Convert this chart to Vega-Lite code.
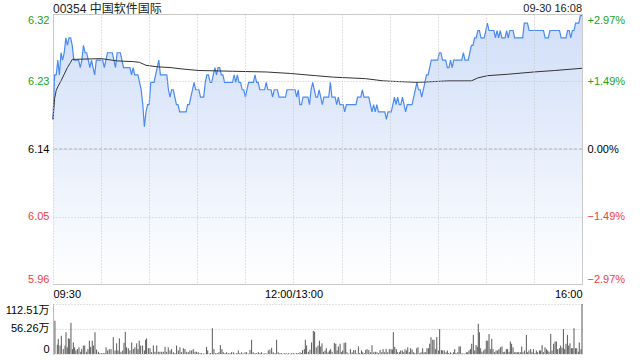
{
"$schema": "https://vega.github.io/schema/vega-lite/v6.json",
"padding": {"left": 5, "right": 5, "top": 2, "bottom": 2},
"spacing": 3,
"config": {
  "font": "Liberation Sans, Noto Sans CJK SC",
  "view": {"stroke": null},
  "axis": {"labelFont": "Liberation Sans, Noto Sans CJK SC", "labelFontSize": 11, "labelColor": "#000000", "ticks": false, "title": null, "domainColor": "#cccccc", "gridColor": "#c4c4c4", "gridDash": [1, 2]}
},
"datasets": {
  "px": [
{"m":0,"p":6.18},{"m":1,"p":6.24},{"m":2,"p":6.24},{"m":3,"p":6.26},{"m":4,"p":6.24},{"m":5,"p":6.27},{"m":6,"p":6.26},{"m":7,"p":6.27},{"m":8,"p":6.29},{"m":9,"p":6.28},
{"m":10,"p":6.29},{"m":11,"p":6.29},{"m":12,"p":6.28},{"m":13,"p":6.26},{"m":14,"p":6.26},{"m":15,"p":6.26},{"m":16,"p":6.26},{"m":17,"p":6.25},{"m":18,"p":6.26},{"m":19,"p":6.28},
{"m":20,"p":6.27},{"m":21,"p":6.27},{"m":22,"p":6.26},{"m":23,"p":6.25},{"m":24,"p":6.26},{"m":25,"p":6.25},{"m":26,"p":6.24},{"m":27,"p":6.26},{"m":28,"p":6.26},{"m":29,"p":6.26},
{"m":30,"p":6.26},{"m":31,"p":6.26},{"m":32,"p":6.25},{"m":33,"p":6.26},{"m":34,"p":6.27},{"m":35,"p":6.27},{"m":36,"p":6.27},{"m":37,"p":6.27},{"m":38,"p":6.26},{"m":39,"p":6.25},
{"m":40,"p":6.27},{"m":41,"p":6.27},{"m":42,"p":6.27},{"m":43,"p":6.26},{"m":44,"p":6.25},{"m":45,"p":6.25},{"m":46,"p":6.25},{"m":47,"p":6.25},{"m":48,"p":6.25},{"m":49,"p":6.24},
{"m":50,"p":6.25},{"m":51,"p":6.24},{"m":52,"p":6.24},{"m":53,"p":6.24},{"m":54,"p":6.23},{"m":55,"p":6.22},{"m":56,"p":6.20},{"m":57,"p":6.17},{"m":58,"p":6.19},{"m":59,"p":6.20},
{"m":60,"p":6.20},{"m":61,"p":6.23},{"m":62,"p":6.23},{"m":63,"p":6.23},{"m":64,"p":6.24},{"m":65,"p":6.25},{"m":66,"p":6.26},{"m":67,"p":6.24},{"m":68,"p":6.24},{"m":69,"p":6.24},
{"m":70,"p":6.24},{"m":71,"p":6.24},{"m":72,"p":6.22},{"m":73,"p":6.21},{"m":74,"p":6.22},{"m":75,"p":6.22},{"m":76,"p":6.21},{"m":77,"p":6.20},{"m":78,"p":6.20},{"m":79,"p":6.19},
{"m":80,"p":6.19},{"m":81,"p":6.19},{"m":82,"p":6.19},{"m":83,"p":6.19},{"m":84,"p":6.20},{"m":85,"p":6.20},{"m":86,"p":6.21},{"m":87,"p":6.22},{"m":88,"p":6.23},{"m":89,"p":6.22},
{"m":90,"p":6.22},{"m":91,"p":6.22},{"m":92,"p":6.21},{"m":93,"p":6.21},{"m":94,"p":6.21},{"m":95,"p":6.23},{"m":96,"p":6.24},{"m":97,"p":6.24},{"m":98,"p":6.23},{"m":99,"p":6.23},
{"m":100,"p":6.24},{"m":101,"p":6.25},{"m":102,"p":6.24},{"m":103,"p":6.25},{"m":104,"p":6.25},{"m":105,"p":6.24},{"m":106,"p":6.24},{"m":107,"p":6.23},{"m":108,"p":6.23},{"m":109,"p":6.23},
{"m":110,"p":6.23},{"m":111,"p":6.23},{"m":112,"p":6.23},{"m":113,"p":6.24},{"m":114,"p":6.23},{"m":115,"p":6.24},{"m":116,"p":6.23},{"m":117,"p":6.23},{"m":118,"p":6.22},{"m":119,"p":6.22},
{"m":120,"p":6.21},{"m":121,"p":6.22},{"m":122,"p":6.23},{"m":123,"p":6.23},{"m":124,"p":6.23},{"m":125,"p":6.23},{"m":126,"p":6.24},{"m":127,"p":6.23},{"m":128,"p":6.23},{"m":129,"p":6.22},
{"m":130,"p":6.22},{"m":131,"p":6.22},{"m":132,"p":6.22},{"m":133,"p":6.23},{"m":134,"p":6.22},{"m":135,"p":6.22},{"m":136,"p":6.22},{"m":137,"p":6.21},{"m":138,"p":6.22},{"m":139,"p":6.22},
{"m":140,"p":6.22},{"m":141,"p":6.21},{"m":142,"p":6.21},{"m":143,"p":6.21},{"m":144,"p":6.21},{"m":145,"p":6.21},{"m":146,"p":6.22},{"m":147,"p":6.22},{"m":148,"p":6.22},{"m":149,"p":6.22},
{"m":150,"p":6.22},{"m":151,"p":6.22},{"m":152,"p":6.21},{"m":153,"p":6.22},{"m":154,"p":6.20},{"m":155,"p":6.20},{"m":156,"p":6.21},{"m":157,"p":6.21},{"m":158,"p":6.21},{"m":159,"p":6.21},
{"m":160,"p":6.20},{"m":161,"p":6.22},{"m":162,"p":6.23},{"m":163,"p":6.22},{"m":164,"p":6.21},{"m":165,"p":6.21},{"m":166,"p":6.22},{"m":167,"p":6.21},{"m":168,"p":6.20},{"m":169,"p":6.21},
{"m":170,"p":6.21},{"m":171,"p":6.21},{"m":172,"p":6.21},{"m":173,"p":6.23},{"m":174,"p":6.21},{"m":175,"p":6.21},{"m":176,"p":6.21},{"m":177,"p":6.20},{"m":178,"p":6.21},{"m":179,"p":6.20},
{"m":180,"p":6.20},{"m":181,"p":6.20},{"m":182,"p":6.19},{"m":183,"p":6.20},{"m":184,"p":6.20},{"m":185,"p":6.20},{"m":186,"p":6.20},{"m":187,"p":6.20},{"m":188,"p":6.20},{"m":189,"p":6.20},
{"m":190,"p":6.21},{"m":191,"p":6.21},{"m":192,"p":6.21},{"m":193,"p":6.22},{"m":194,"p":6.21},{"m":195,"p":6.21},{"m":196,"p":6.21},{"m":197,"p":6.21},{"m":198,"p":6.20},{"m":199,"p":6.19},
{"m":200,"p":6.20},{"m":201,"p":6.19},{"m":202,"p":6.20},{"m":203,"p":6.19},{"m":204,"p":6.19},{"m":205,"p":6.19},{"m":206,"p":6.19},{"m":207,"p":6.19},{"m":208,"p":6.18},{"m":209,"p":6.19},
{"m":210,"p":6.19},{"m":211,"p":6.19},{"m":212,"p":6.20},{"m":213,"p":6.21},{"m":214,"p":6.20},{"m":215,"p":6.21},{"m":216,"p":6.20},{"m":217,"p":6.20},{"m":218,"p":6.21},{"m":219,"p":6.20},
{"m":220,"p":6.19},{"m":221,"p":6.20},{"m":222,"p":6.20},{"m":223,"p":6.20},{"m":224,"p":6.20},{"m":225,"p":6.21},{"m":226,"p":6.22},{"m":227,"p":6.23},{"m":228,"p":6.22},{"m":229,"p":6.22},
{"m":230,"p":6.21},{"m":231,"p":6.22},{"m":232,"p":6.23},{"m":233,"p":6.24},{"m":234,"p":6.24},{"m":235,"p":6.25},{"m":236,"p":6.26},{"m":237,"p":6.26},{"m":238,"p":6.26},{"m":239,"p":6.26},
{"m":240,"p":6.26},{"m":241,"p":6.27},{"m":242,"p":6.27},{"m":243,"p":6.26},{"m":244,"p":6.26},{"m":245,"p":6.26},{"m":246,"p":6.25},{"m":247,"p":6.25},{"m":248,"p":6.26},{"m":249,"p":6.25},
{"m":250,"p":6.26},{"m":251,"p":6.26},{"m":252,"p":6.26},{"m":253,"p":6.26},{"m":254,"p":6.26},{"m":255,"p":6.26},{"m":256,"p":6.27},{"m":257,"p":6.26},{"m":258,"p":6.26},{"m":259,"p":6.26},
{"m":260,"p":6.27},{"m":261,"p":6.28},{"m":262,"p":6.28},{"m":263,"p":6.29},{"m":264,"p":6.29},{"m":265,"p":6.30},{"m":266,"p":6.30},{"m":267,"p":6.29},{"m":268,"p":6.29},{"m":269,"p":6.29},
{"m":270,"p":6.30},{"m":271,"p":6.31},{"m":272,"p":6.30},{"m":273,"p":6.30},{"m":274,"p":6.30},{"m":275,"p":6.30},{"m":276,"p":6.29},{"m":277,"p":6.30},{"m":278,"p":6.29},{"m":279,"p":6.30},
{"m":280,"p":6.29},{"m":281,"p":6.29},{"m":282,"p":6.29},{"m":283,"p":6.30},{"m":284,"p":6.29},{"m":285,"p":6.30},{"m":286,"p":6.30},{"m":287,"p":6.30},{"m":288,"p":6.29},{"m":289,"p":6.29},
{"m":290,"p":6.29},{"m":291,"p":6.29},{"m":292,"p":6.29},{"m":293,"p":6.29},{"m":294,"p":6.31},{"m":295,"p":6.31},{"m":296,"p":6.31},{"m":297,"p":6.30},{"m":298,"p":6.30},{"m":299,"p":6.30},
{"m":300,"p":6.30},{"m":301,"p":6.30},{"m":302,"p":6.30},{"m":303,"p":6.30},{"m":304,"p":6.30},{"m":305,"p":6.30},{"m":306,"p":6.30},{"m":307,"p":6.29},{"m":308,"p":6.29},{"m":309,"p":6.29},
{"m":310,"p":6.30},{"m":311,"p":6.30},{"m":312,"p":6.30},{"m":313,"p":6.30},{"m":314,"p":6.30},{"m":315,"p":6.30},{"m":316,"p":6.30},{"m":317,"p":6.29},{"m":318,"p":6.29},{"m":319,"p":6.29},
{"m":320,"p":6.29},{"m":321,"p":6.30},{"m":322,"p":6.30},{"m":323,"p":6.29},{"m":324,"p":6.30},{"m":325,"p":6.30},{"m":326,"p":6.31},{"m":327,"p":6.31},{"m":328,"p":6.31},{"m":329,"p":6.32},
{"m":330,"p":6.32}
  ],
  "avg": [
{"m":0,"a":6.18},{"m":1,"a":6.208},{"m":2,"a":6.219},{"m":3,"a":6.224},{"m":5,"a":6.232},{"m":7,"a":6.241},{"m":9,"a":6.25},{"m":11,"a":6.257},{"m":12,"a":6.261},{"m":30,"a":6.262},
{"m":40,"a":6.259},{"m":50,"a":6.258},{"m":54,"a":6.257},{"m":58,"a":6.253},{"m":65,"a":6.251},{"m":73,"a":6.25},{"m":81,"a":6.248},{"m":91,"a":6.246},{"m":112,"a":6.245},{"m":133,"a":6.244},
{"m":148,"a":6.242},{"m":164,"a":6.239},{"m":175,"a":6.237},{"m":195,"a":6.235},{"m":206,"a":6.232},{"m":216,"a":6.231},{"m":227,"a":6.23},{"m":237,"a":6.231},{"m":247,"a":6.232},{"m":261,"a":6.232},
{"m":265,"a":6.236},{"m":271,"a":6.239},{"m":284,"a":6.241},{"m":300,"a":6.244},{"m":313,"a":6.246},{"m":330,"a":6.249}
  ],
  "vol": [
{"m":1.2,"v":75},{"m":2.7,"v":21},{"m":3.3,"v":34},{"m":4.4,"v":19},{"m":5.2,"v":41},{"m":6.4,"v":11},{"m":7.5,"v":19},{"m":8.1,"v":49},{"m":8.9,"v":15},{"m":9.6,"v":35},
{"m":10.2,"v":34},{"m":11.2,"v":70},{"m":12.1,"v":11},{"m":12.7,"v":26},{"m":13.5,"v":15},{"m":14.3,"v":8},{"m":15.2,"v":11},{"m":16.2,"v":15},{"m":17.3,"v":5},{"m":17.9,"v":11},
{"m":18.9,"v":19},{"m":19.8,"v":19},{"m":21.0,"v":5},{"m":21.8,"v":11},{"m":22.7,"v":30},{"m":23.5,"v":16},{"m":24.5,"v":30},{"m":25.2,"v":19},{"m":26.2,"v":49},{"m":27.2,"v":10},
{"m":28.3,"v":5},{"m":29.3,"v":2},{"m":30.4,"v":2},{"m":31.4,"v":2},{"m":32.4,"v":2},{"m":33.1,"v":15},{"m":34.1,"v":8},{"m":35.1,"v":11},{"m":36.2,"v":11},{"m":37.6,"v":38},
{"m":38.7,"v":8},{"m":39.7,"v":24},{"m":40.5,"v":8},{"m":41.4,"v":35},{"m":42.4,"v":5},{"m":43.5,"v":8},{"m":44.3,"v":25},{"m":45.1,"v":50},{"m":45.9,"v":15},{"m":47.0,"v":13},
{"m":48.0,"v":8},{"m":49.1,"v":26},{"m":50.1,"v":11},{"m":51.1,"v":15},{"m":52.2,"v":24},{"m":53.0,"v":11},{"m":53.8,"v":30},{"m":54.7,"v":19},{"m":55.9,"v":19},{"m":57.0,"v":8},
{"m":57.8,"v":32},{"m":58.4,"v":35},{"m":59.5,"v":13},{"m":60.5,"v":13},{"m":61.5,"v":4},{"m":62.6,"v":19},{"m":63.6,"v":5},{"m":64.7,"v":19},{"m":65.7,"v":5},{"m":66.7,"v":5},
{"m":67.8,"v":5},{"m":68.8,"v":5},{"m":69.9,"v":16},{"m":70.9,"v":5},{"m":71.9,"v":15},{"m":73.0,"v":8},{"m":74.0,"v":11},{"m":75.1,"v":4},{"m":76.1,"v":2},{"m":77.1,"v":19},
{"m":78.2,"v":8},{"m":79.2,"v":15},{"m":80.2,"v":4},{"m":81.3,"v":13},{"m":82.3,"v":11},{"m":83.4,"v":5},{"m":84.4,"v":4},{"m":85.4,"v":8},{"m":86.5,"v":8},{"m":87.5,"v":11},
{"m":88.6,"v":5},{"m":89.6,"v":5},{"m":90.6,"v":4},{"m":91.7,"v":2},{"m":92.7,"v":2},{"m":93.8,"v":1},{"m":94.8,"v":1},{"m":95.8,"v":16},{"m":96.5,"v":8},{"m":97.5,"v":1},
{"m":98.3,"v":2},{"m":99.4,"v":58},{"m":100.4,"v":11},{"m":101.5,"v":2},{"m":102.5,"v":2},{"m":103.5,"v":4},{"m":104.4,"v":20},{"m":105.4,"v":11},{"m":106.2,"v":4},{"m":107.3,"v":2},
{"m":108.3,"v":4},{"m":109.4,"v":2},{"m":110.4,"v":2},{"m":111.4,"v":4},{"m":112.5,"v":4},{"m":113.5,"v":1},{"m":114.6,"v":2},{"m":115.6,"v":8},{"m":116.6,"v":2},{"m":117.7,"v":4},
{"m":118.7,"v":1},{"m":119.8,"v":4},{"m":120.8,"v":4},{"m":121.8,"v":1},{"m":122.9,"v":9},{"m":123.9,"v":32},{"m":124.9,"v":4},{"m":126.0,"v":2},{"m":127.0,"v":2},{"m":128.1,"v":4},
{"m":129.1,"v":2},{"m":130.1,"v":4},{"m":131.2,"v":1},{"m":132.2,"v":2},{"m":133.3,"v":1},{"m":134.3,"v":8},{"m":135.3,"v":10},{"m":136.4,"v":14},{"m":137.4,"v":4},{"m":138.5,"v":2},
{"m":139.5,"v":32},{"m":140.5,"v":4},{"m":141.6,"v":2},{"m":142.6,"v":2},{"m":143.7,"v":1},{"m":144.7,"v":2},{"m":145.7,"v":1},{"m":146.8,"v":2},{"m":147.8,"v":1},{"m":148.9,"v":2},
{"m":149.9,"v":2},{"m":150.9,"v":1},{"m":152.0,"v":2},{"m":153.0,"v":2},{"m":154.1,"v":4},{"m":155.1,"v":2},{"m":155.7,"v":9},{"m":156.8,"v":11},{"m":157.4,"v":32},{"m":158.2,"v":19},
{"m":159.3,"v":5},{"m":160.3,"v":10},{"m":161.3,"v":26},{"m":162.4,"v":52},{"m":163.2,"v":50},{"m":164.2,"v":15},
{"m":165.3,"v":19},{"m":166.2,"v":30},{"m":167.0,"v":17},{"m":167.8,"v":24},{"m":168.7,"v":5},{"m":169.7,"v":8},{"m":170.5,"v":13},{"m":171.6,"v":4},{"m":172.4,"v":8},{"m":173.2,"v":11},
{"m":174.1,"v":5},{"m":175.5,"v":25},{"m":176.4,"v":23},{"m":177.2,"v":8},{"m":178.0,"v":17},{"m":179.1,"v":23},{"m":179.9,"v":4},{"m":180.7,"v":8},{"m":181.6,"v":25},{"m":182.6,"v":26},
{"m":183.4,"v":4},{"m":184.5,"v":1},{"m":185.5,"v":11},{"m":186.6,"v":4},{"m":187.6,"v":9},{"m":188.6,"v":9},{"m":189.5,"v":1},{"m":190.5,"v":17},{"m":191.3,"v":2},{"m":192.4,"v":8},
{"m":193.2,"v":4},{"m":194.2,"v":2},{"m":195.1,"v":9},{"m":195.9,"v":11},{"m":197.0,"v":9},{"m":198.0,"v":4},{"m":199.0,"v":20},{"m":200.1,"v":4},{"m":201.1,"v":5},{"m":202.1,"v":4},
{"m":203.0,"v":2},{"m":204.0,"v":9},{"m":205.1,"v":4},{"m":205.9,"v":11},{"m":206.9,"v":4},{"m":207.8,"v":11},{"m":208.8,"v":4},{"m":209.8,"v":11},{"m":210.9,"v":11},{"m":211.7,"v":10},
{"m":212.3,"v":49},{"m":213.2,"v":16},{"m":214.2,"v":11},{"m":215.0,"v":4},{"m":216.1,"v":4},{"m":216.9,"v":8},{"m":217.9,"v":8},{"m":218.8,"v":4},{"m":219.6,"v":11},{"m":220.6,"v":8},
{"m":221.3,"v":15},{"m":222.3,"v":4},{"m":223.1,"v":13},{"m":224.0,"v":10},{"m":225.0,"v":4},{"m":225.8,"v":2},{"m":226.9,"v":13},{"m":227.7,"v":15},{"m":228.8,"v":2},{"m":229.6,"v":4},
{"m":230.6,"v":13},{"m":231.5,"v":4},{"m":232.5,"v":4},{"m":233.3,"v":13},{"m":234.2,"v":13},{"m":235.0,"v":23},{"m":235.8,"v":38},{"m":236.9,"v":32},{"m":237.7,"v":32},{"m":238.5,"v":11},
{"m":239.4,"v":38},{"m":240.4,"v":8},{"m":241.2,"v":56},{"m":242.3,"v":9},{"m":243.1,"v":8},{"m":244.1,"v":8},{"m":245.2,"v":4},{"m":246.0,"v":8},{"m":246.8,"v":2},{"m":247.9,"v":4},
{"m":248.7,"v":1},{"m":249.8,"v":4},{"m":250.6,"v":11},{"m":251.4,"v":2},{"m":252.5,"v":4},{"m":253.3,"v":17},{"m":254.1,"v":17},{"m":255.2,"v":2},{"m":256.2,"v":1},{"m":257.0,"v":1},
{"m":257.9,"v":4},{"m":258.7,"v":4},{"m":259.5,"v":8},{"m":260.4,"v":11},{"m":261.2,"v":23},{"m":262.2,"v":43},{"m":263.1,"v":8},{"m":263.9,"v":20},{"m":264.7,"v":16},{"m":265.3,"v":68},
{"m":266.0,"v":49},{"m":266.8,"v":13},{"m":267.6,"v":5},{"m":268.7,"v":8},{"m":269.5,"v":11},{"m":270.3,"v":30},{"m":271.2,"v":30},{"m":272.0,"v":45},{"m":272.8,"v":11},{"m":273.7,"v":34},
{"m":274.5,"v":11},{"m":275.5,"v":4},{"m":276.4,"v":8},{"m":277.4,"v":8},{"m":278.2,"v":11},{"m":279.1,"v":15},{"m":280.1,"v":17},{"m":280.9,"v":4},{"m":281.8,"v":5},{"m":282.8,"v":11},
{"m":283.6,"v":11},{"m":284.5,"v":5},{"m":285.3,"v":28},{"m":286.1,"v":23},{"m":287.0,"v":15},{"m":288.0,"v":4},{"m":288.8,"v":4},{"m":289.7,"v":4},{"m":290.5,"v":4},{"m":291.5,"v":4},
{"m":292.4,"v":17},{"m":293.2,"v":4},{"m":294.2,"v":8},{"m":295.3,"v":43},{"m":296.1,"v":4},{"m":296.9,"v":8},{"m":298.0,"v":11},{"m":298.8,"v":4},{"m":299.7,"v":11},{"m":300.7,"v":2},
{"m":301.5,"v":8},{"m":302.3,"v":4},{"m":303.4,"v":8},{"m":304.2,"v":8},{"m":305.1,"v":20},{"m":305.9,"v":4},{"m":306.9,"v":15},{"m":307.8,"v":11},{"m":308.6,"v":8},{"m":309.4,"v":5},
{"m":310.5,"v":45},{"m":311.3,"v":8},{"m":312.3,"v":23},{"m":313.2,"v":28},{"m":314.0,"v":28},{"m":314.8,"v":11},{"m":315.9,"v":13},{"m":316.7,"v":19},{"m":317.5,"v":14},{"m":318.4,"v":56},
{"m":319.2,"v":11},{"m":320.0,"v":23},{"m":320.9,"v":43},{"m":321.7,"v":19},{"m":322.5,"v":24},{"m":323.4,"v":13},{"m":324.2,"v":13},{"m":325.0,"v":58},{"m":325.9,"v":13},{"m":326.7,"v":13},
{"m":327.7,"v":5},{"m":328.3,"v":26},{"m":329.4,"v":11},{"m":330.0,"v":112.51}
  ]
},
"vconcat": [
  {
    "width": 529,
    "height": 270,
    "view": {"stroke": "#cccccc"},
    "title": {"text": "00354 中国软件国际", "anchor": "start", "frame": "group", "fontSize": 12, "fontWeight": "normal", "color": "#222222", "offset": -13, "font": "Liberation Sans, Noto Sans CJK SC"},
    "resolve": {"axis": {"y": "independent"}},
    "layer": [
      {
        "data": {"name": "px"},
        "mark": {"type": "area", "clip": true, "color": {"gradient": "linear", "x1": 0, "y1": 0, "x2": 0, "y2": 1, "stops": [{"offset": 0, "color": "#d0def8"}, {"offset": 1, "color": "#ffffff"}]}},
        "encoding": {
          "x": {"field": "m", "type": "quantitative", "scale": {"domain": [0, 330], "nice": false, "zero": false},
                "axis": {"values": [0, 30, 60, 90, 120, 150, 180, 210, 240, 270, 300, 330], "labelExpr": "datum.value == 0 ? '09:30' : datum.value == 150 ? '12:00/13:00' : datum.value == 330 ? '16:00' : ''", "labelFlush": true, "labelOverlap": false, "grid": true, "domain": false, "labelPadding": 4, "zindex": 1}},
          "y": {"field": "p", "type": "quantitative", "scale": {"domain": [5.9577, 6.3223], "nice": false, "zero": false},
                "axis": {"orient": "left", "values": [5.9577, 6.0488, 6.14, 6.2312, 6.3223], "format": ".2f", "labelFlush": true, "grid": true, "domain": false, "labelPadding": 4, "zindex": 1,
                         "labelColor": {"condition": [{"test": "datum.value > 6.15", "value": "#1aa01a"}, {"test": "datum.value < 6.13", "value": "#f03c3c"}], "value": "#000000"}}},
          "y2": {"datum": 5.9577}
        }
      },
      {
        "data": {"values": [{}]},
        "mark": {"type": "rule", "color": "#b0b0b0", "strokeDash": [3, 2], "strokeWidth": 1},
        "encoding": {"y": {"datum": 6.14, "type": "quantitative", "axis": null}}
      },
      {
        "data": {"name": "px"},
        "mark": {"type": "line", "color": "#4a8af4", "strokeWidth": 1.2},
        "encoding": {
          "x": {"field": "m", "type": "quantitative"},
          "y": {"field": "p", "type": "quantitative", "axis": null}
        }
      },
      {
        "data": {"name": "avg"},
        "mark": {"type": "line", "color": "#333333", "strokeWidth": 1},
        "encoding": {
          "x": {"field": "m", "type": "quantitative"},
          "y": {"field": "a", "type": "quantitative",
                "axis": {"orient": "right", "values": [5.9577, 6.0488, 6.14, 6.2312, 6.3223], "labelExpr": "(datum.value > 6.15 ? '+' : '') + format((datum.value / 6.14 - 1) * 100, '.2f') + '%'", "labelFlush": true, "grid": false, "domain": false, "labelPadding": 5,
                         "labelColor": {"condition": [{"test": "datum.value > 6.15", "value": "#1aa01a"}, {"test": "datum.value < 6.13", "value": "#f03c3c"}], "value": "#000000"}}}
        }
      },
      {
        "data": {"values": [{"t": "09-30 16:08"}]},
        "mark": {"type": "text", "align": "right", "baseline": "bottom", "dy": 0, "fontSize": 11, "color": "#222222", "font": "Liberation Sans"},
        "encoding": {
          "x": {"datum": 330, "type": "quantitative"},
          "y": {"datum": 6.3223, "type": "quantitative", "axis": null},
          "text": {"field": "t"}
        }
      }
    ]
  },
  {
    "width": 529,
    "height": 50,
    "data": {"name": "vol"},
    "mark": {"type": "rule", "color": "#595959", "strokeWidth": 1},
    "encoding": {
      "x": {"field": "m", "type": "quantitative", "scale": {"domain": [0, 330], "nice": false, "zero": false}, "axis": null},
      "y": {"field": "v", "type": "quantitative", "scale": {"domain": [0, 112.51], "nice": false},
            "axis": {"values": [0, 56.26, 112.51], "labelExpr": "datum.value == 0 ? '0' : format(datum.value, '.2f') + '万'", "labelFlush": true, "grid": true, "domain": true, "domainColor": "#bbbbbb", "labelPadding": 4}},
      "y2": {"datum": 0}
    }
  }
]
}
